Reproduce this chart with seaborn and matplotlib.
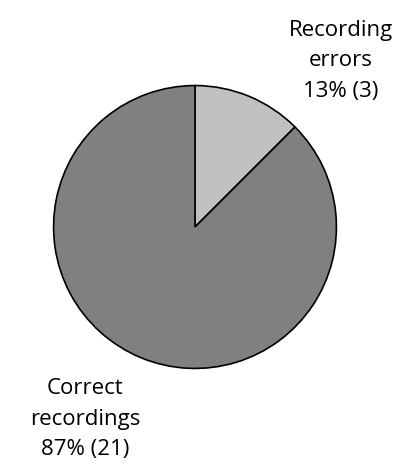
import matplotlib
matplotlib.use('Agg')
import matplotlib.pyplot as plt
import seaborn as sns

# data
categories = ['Recording errors', 'Correct recordings']
counts = [3, 21]
percents = ['13%', '87%']
colors = ['#c0c0c0', '#808080']

sns.set_theme(style='white')
plt.rcParams['font.family'] = ['Open Sans', 'DejaVu Sans']

fig = plt.figure(figsize=(4.06, 4.70), dpi=100)
W, H = 406, 470
cx, cy, r = 195, 227, 142
ax = fig.add_axes([(cx - r) / W, (H - cy - r) / H, 2 * r / W, 2 * r / H])

ax.pie(counts, colors=colors, startangle=90, counterclock=False,
       wedgeprops=dict(edgecolor='black', linewidth=1.2))
ax.set_xlim(-1.004, 1.004)
ax.set_ylim(-1.004, 1.004)

labels = [f"{c.split(' ')[0]}\n{c.split(' ')[1]}\n{p} ({n})"
          for c, p, n in zip(categories, percents, counts)]
pos = [(341, 61), (85, 419)]
for lab, (x, y) in zip(labels, pos):
    fig.text(x / W, 1 - y / H, lab, ha='center', va='center',
             fontsize=16, linespacing=1.6, color='black')

fig.savefig('out.png', dpi=100, facecolor='white')
